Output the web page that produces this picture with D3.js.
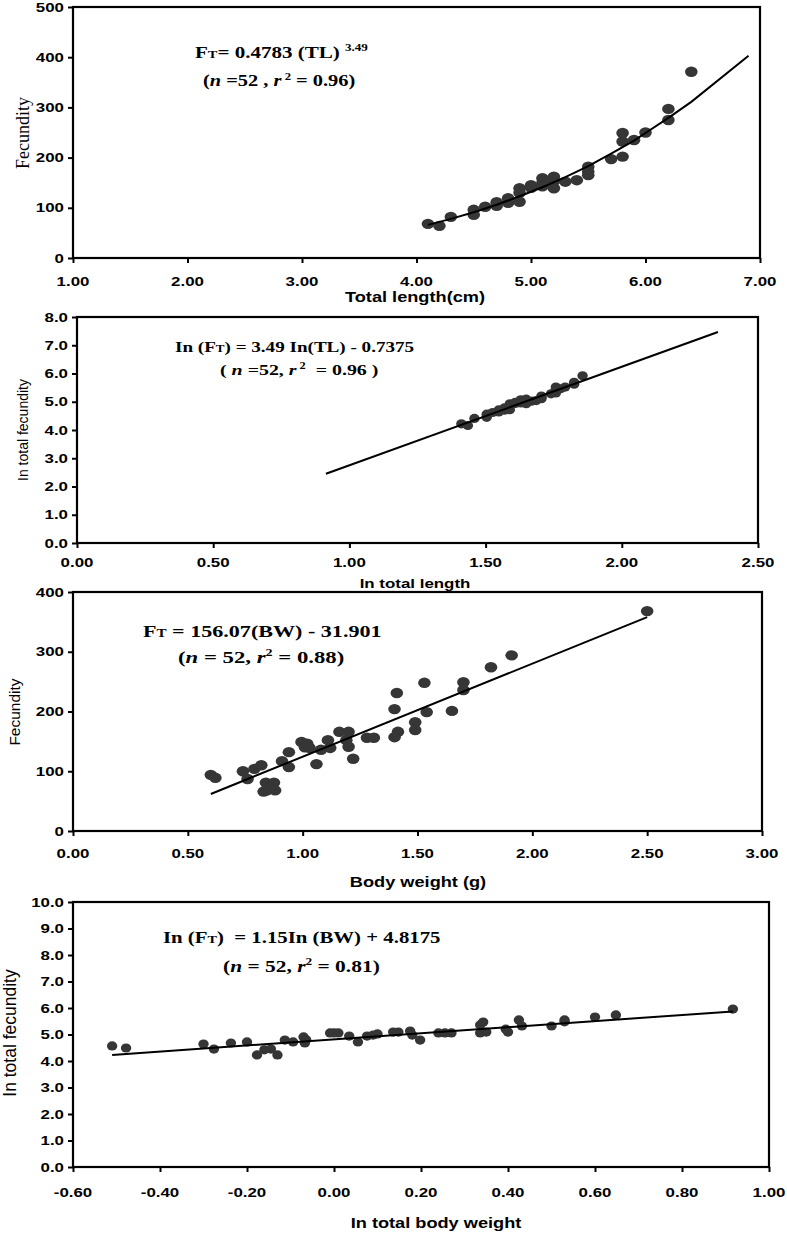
<!DOCTYPE html>
<html><head><meta charset="utf-8">
<script src="https://cdn.jsdelivr.net/npm/d3@7"></script>
<style>body{margin:0;background:#fff} svg{display:block} text{white-space:pre}</style>
</head><body><svg id="c" width="787" height="1233"></svg>
<script>
// ---------- DATA ----------
// Panel 1: total length (cm) vs fecundity
const p1TL = [4.1,4.2,4.3,4.5,4.5,4.6,4.7,4.7,4.8,4.8,4.9,4.9,4.9,5.0,5.0,5.1,5.1,5.1,5.2,5.2,5.2,5.3,5.4,5.5,5.5,5.5,5.7,5.8,5.8,5.8,5.9,6.0,6.2,6.2,6.4];
const p1F  = [68,64,82,96,86,102,111,104,119,110,139,130,112,145,140,159,150,143,162,153,139,152,155,182,172,165,197,202,232,249,235,250,275,297,371];
const p1FitTL = [4.1,4.3,4.5,4.7,4.9,5.1,5.3,5.5,5.7,5.9,6.0,6.2,6.4,6.9];
const p1FitF  = [66,78,91,106,123,141,161,183,208,234,249,279,311,403];
const p1XTicks = [1,2,3,4,5,6,7];
const p1YTicks = [0,100,200,300,400,500];

// Panel 2: ln total length vs ln total fecundity
const p2LnTL = [1.411,1.435,1.459,1.504,1.504,1.526,1.548,1.548,1.569,1.569,1.589,1.589,1.589,1.609,1.609,1.629,1.629,1.629,1.649,1.649,1.649,1.668,1.686,1.705,1.705,1.705,1.740,1.758,1.758,1.758,1.775,1.792,1.825,1.825,1.856];
const p2LnF  = [4.22,4.16,4.41,4.56,4.45,4.62,4.71,4.64,4.78,4.70,4.93,4.87,4.72,4.98,4.94,5.07,5.01,4.96,5.09,5.03,4.93,5.02,5.04,5.20,5.15,5.11,5.28,5.31,5.45,5.52,5.46,5.52,5.62,5.69,5.92];
const p2FitX = [0.914,2.353];
const p2FitY = [2.45,7.47];
const p2XTicks = [0,0.5,1,1.5,2,2.5];
const p2YTicks = [0,1,2,3,4,5,6,7,8];

// Panel 3: body weight (g) vs fecundity
const p3BW = [0.60,0.62,0.74,0.76,0.79,0.82,0.83,0.84,0.845,0.875,0.88,0.91,0.94,0.94,0.995,1.02,1.01,1.03,1.06,1.08,1.11,1.12,1.16,1.20,1.19,1.20,1.22,1.28,1.31,1.41,1.40,1.415,1.40,1.53,1.54,1.49,1.49,1.65,1.70,1.70,1.82,1.91,2.50];
const p3F  = [94,89,100,87,104,110,66,81,68,81,68,117,132,107,149,146,140,139,112,136,152,139,166,166,152,141,121,156,156,231,204,166,157,248,199,182,169,201,249,236,274,294,368];
const p3FitX = [0.60,2.50];
const p3FitY = [62,358];
const p3XTicks = [0,0.5,1,1.5,2,2.5,3];
const p3YTicks = [0,100,200,300,400];

// Panel 4: ln total body weight vs ln total fecundity
const p4LnBW = [-0.51,-0.478,-0.30,-0.276,-0.237,-0.20,-0.177,-0.16,-0.145,-0.13,-0.113,-0.094,-0.07,-0.067,-0.064,-0.009,0.0,0.01,0.035,0.055,0.076,0.09,0.10,0.136,0.148,0.175,0.18,0.198,0.24,0.255,0.27,0.336,0.343,0.336,0.35,0.395,0.40,0.425,0.432,0.50,0.53,0.53,0.60,0.648,0.917];
const p4LnF  = [4.57,4.49,4.64,4.45,4.68,4.72,4.23,4.42,4.45,4.23,4.79,4.72,4.91,4.68,4.80,5.06,5.06,5.06,4.94,4.72,4.94,4.98,5.02,5.09,5.09,5.13,4.98,4.79,5.06,5.06,5.06,5.36,5.47,5.06,5.09,5.20,5.09,5.55,5.32,5.32,5.55,5.48,5.66,5.74,5.96];
const p4FitX = [-0.51,0.917];
const p4FitY = [4.23,5.87];
const p4XTicks = [-0.6,-0.4,-0.2,0,0.2,0.4,0.6,0.8,1.0];
const p4YTicks = [0,1,2,3,4,5,6,7,8,9,10];

// ---------- DRAWING ----------
const SX = 1.3;
const TSX = 1.35;
const svg = d3.select("#c");
const SANS = "'Liberation Sans', Arial, sans-serif";
const SERIF = "'Liberation Serif', 'Times New Roman', serif";

function drawPanel(p) {
  const x = d3.scaleLinear().domain(p.xDomain).range([p.left, p.right]);
  const y = d3.scaleLinear().domain(p.yDomain).range([p.bottom, p.top]);
  const g = svg.append("g");

  // tick marks
  g.append("g").attr("transform", `translate(0,${p.bottom})`)
    .call(d3.axisBottom(x).tickValues(p.xTicks).tickSize(5).tickSizeOuter(0).tickFormat(""))
    .call(a => a.select(".domain").remove())
    .selectAll("line").attr("stroke", "#000").attr("stroke-width", 2);
  g.append("g").attr("transform", `translate(${p.left},0)`)
    .call(d3.axisLeft(y).tickValues(p.yTicks).tickSize(5).tickSizeOuter(0).tickFormat(""))
    .call(a => a.select(".domain").remove())
    .selectAll("line").attr("stroke", "#000").attr("stroke-width", 2);

  // tick labels
  g.selectAll(".xl").data(p.xTicks).join("text")
    .attr("transform", d => `translate(${x(d)},${p.bottom + p.xLabOff}) scale(${TSX},1)`)
    .attr("text-anchor", "middle").attr("font-family", SANS).attr("font-weight", "bold")
    .attr("font-size", p.tickSize).text(d => d.toFixed(2));
  g.selectAll(".yl").data(p.yTicks).join("text")
    .attr("transform", d => `translate(${p.left - 9},${y(d) + 4.5}) scale(${TSX},1)`)
    .attr("text-anchor", "end").attr("font-family", SANS).attr("font-weight", "bold")
    .attr("font-size", p.tickSize).text(d => p.yDec ? d.toFixed(p.yDec) : String(d));

  // axis titles
  g.append("text").attr("transform", `translate(${p.xTitleX},${p.xTitleY}) scale(${SX},1)`)
    .attr("text-anchor", "middle").attr("font-family", SANS).attr("font-weight", "bold")
    .attr("font-size", p.xTitleSize).text(p.xTitle);
  g.append("text").attr("transform", `translate(${p.yTitleX},${p.yTitleY}) rotate(-90)`)
    .attr("text-anchor", "middle").attr("font-family", p.yTitleFont)
    .attr("font-size", p.yTitleSize).text(p.yTitle);

  // markers
  g.append("g").selectAll("ellipse").data(d3.zip(p.xs, p.ys)).join("ellipse")
    .attr("cx", d => x(d[0])).attr("cy", d => y(d[1]))
    .attr("rx", p.rx).attr("ry", p.ry).attr("fill", "#363636");

  // fitted line
  g.append("path").datum(d3.zip(p.fitX, p.fitY))
    .attr("d", d3.line().x(d => x(d[0])).y(d => y(d[1])))
    .attr("fill", "none").attr("stroke", "#000").attr("stroke-width", 2);

  // frame
  g.append("rect").attr("x", p.left).attr("y", p.top)
    .attr("width", p.right - p.left).attr("height", p.bottom - p.top)
    .attr("fill", "none").attr("stroke", "#000").attr("stroke-width", 2.2);

  // equation annotation
  p.eq.forEach(line => {
    const fs = line.size;
    const t = g.append("text")
      .attr("transform", `translate(${line.x},${line.y}) scale(${SX},1)`)
      .attr("font-family", SERIF).attr("font-weight", "bold").attr("font-size", fs);
    line.parts.forEach(pt => {
      const ts = t.append("tspan").text(pt.t);
      if (pt.s) ts.attr("font-size", fs * pt.s);
      if (pt.dy) ts.attr("dy", pt.dy);
      if (pt.i) ts.attr("font-style", "italic");
    });
  });
}

const FT = [{t:"F"},{t:"T",s:0.68}];

drawPanel({
  xDomain:[1,7], yDomain:[0,500], left:73, right:760, top:7, bottom:258,
  xTicks:p1XTicks, yTicks:p1YTicks, yDec:0, xs:p1TL, ys:p1F, fitX:p1FitTL, fitY:p1FitF,
  rx:6.3, ry:5.2, tickSize:12.5, xLabOff:28,
  xTitle:"Total length(cm)", xTitleX:415, xTitleY:302, xTitleSize:14,
  yTitle:"Fecundity", yTitleFont:SERIF, yTitleSize:18, yTitleX:29, yTitleY:133,
  eq:[
    {x:195, y:58, size:16.2, parts:[...FT, {t:"= 0.4783 (TL) "}, {t:"3.49",s:0.62,dy:-7},{t:"",dy:7}]},
    {x:203, y:86, size:15.7, parts:[{t:"("},{t:"n",i:1},{t:" =52 , "},{t:"r",i:1},{t:" 2",s:0.62,dy:-6},{t:" = 0.96)",dy:6}]}
  ]
});

drawPanel({
  xDomain:[0,2.5], yDomain:[0,8], left:77, right:758, top:317, bottom:543,
  xTicks:p2XTicks, yTicks:p2YTicks, yDec:1, xs:p2LnTL, ys:p2LnF, fitX:p2FitX, fitY:p2FitY,
  rx:5.2, ry:4.6, tickSize:12.5, xLabOff:24,
  xTitle:"In total length", xTitleX:415, xTitleY:588, xTitleSize:13,
  yTitle:"In total fecundity", yTitleFont:SANS, yTitleSize:14, yTitleX:28, yTitleY:430,
  eq:[
    {x:175, y:352, size:14.7, parts:[{t:"In ("}, ...FT, {t:") = 3.49 In(TL) - 0.7375"}]},
    {x:220, y:375, size:15.3, parts:[{t:"( "},{t:"n",i:1},{t:" =52, "},{t:"r",i:1},{t:" 2",s:0.62,dy:-6},{t:"  = 0.96 )",dy:6}]}
  ]
});

drawPanel({
  xDomain:[0,3], yDomain:[0,400], left:73, right:762, top:592, bottom:831,
  xTicks:p3XTicks, yTicks:p3YTicks, yDec:0, xs:p3BW, ys:p3F, fitX:p3FitX, fitY:p3FitY,
  rx:6.3, ry:5.2, tickSize:12.5, xLabOff:27,
  xTitle:"Body weight (g)", xTitleX:418, xTitleY:887, xTitleSize:14,
  yTitle:"Fecundity", yTitleFont:SANS, yTitleSize:15.5, yTitleX:20, yTitleY:712,
  eq:[
    {x:143, y:637, size:17, parts:[...FT, {t:" = 156.07(BW) - 31.901"}]},
    {x:178, y:663, size:17.5, parts:[{t:"("},{t:"n",i:1},{t:" = 52, "},{t:"r",i:1},{t:"2",s:0.62,dy:-7},{t:" = 0.88)",dy:7}]}
  ]
});

drawPanel({
  xDomain:[-0.6,1.0], yDomain:[0,10], left:73, right:769, top:902, bottom:1167,
  xTicks:p4XTicks, yTicks:p4YTicks, yDec:1, xs:p4LnBW, ys:p4LnF, fitX:p4FitX, fitY:p4FitY,
  rx:5.2, ry:4.6, tickSize:12.5, xLabOff:30,
  xTitle:"In total body weight", xTitleX:436, xTitleY:1228, xTitleSize:14,
  yTitle:"In total fecundity", yTitleFont:SANS, yTitleSize:17.5, yTitleX:16, yTitleY:1033,
  eq:[
    {x:163, y:943, size:16, parts:[{t:"In ("}, ...FT, {t:")  = 1.15In (BW) + 4.8175"}]},
    {x:223, y:972, size:16.5, parts:[{t:"("},{t:"n",i:1},{t:" = 52, "},{t:"r",i:1},{t:"2",s:0.62,dy:-7},{t:" = 0.81)",dy:7}]}
  ]
});
</script></body></html>
